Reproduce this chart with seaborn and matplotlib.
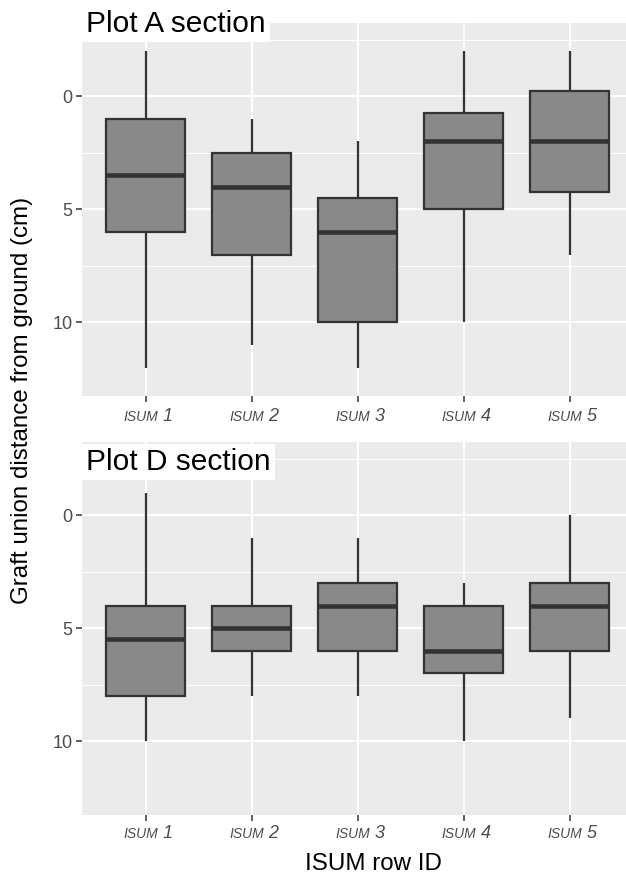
import numpy as np
import pandas as pd
import matplotlib
matplotlib.use('Agg')
import matplotlib.pyplot as plt
import seaborn as sns

# categories on the x axis
rows = ['ISUM 1', 'ISUM 2', 'ISUM 3', 'ISUM 4', 'ISUM 5']
row_nums = ['1', '2', '3', '4', '5']

# Plot A section: five-number summaries (cm)
a_low = [-2, 1, 2, -2, -2]
a_q1 = [1, 2.5, 4.5, 0.75, -0.25]
a_med = [3.5, 4, 6, 2, 2]
a_q3 = [6, 7, 10, 5, 4.25]
a_high = [12, 11, 12, 10, 7]

# Plot D section
d_low = [-1, 1, 1, 3, 0]
d_q1 = [4, 4, 3, 4, 3]
d_med = [5.5, 5, 4, 6, 4]
d_q3 = [8, 6, 6, 7, 6]
d_high = [10, 8, 8, 10, 9]

titles = ['Plot A section', 'Plot D section']
y_ticks = [0, 5, 10]
y_minor = [-2.5, 2.5, 7.5]


def make_frame(lo, q1, med, q3, hi):
    # five values per row -> quartiles land exactly on the summary
    recs = []
    for i, r in enumerate(rows):
        for v in (lo[i], q1[i], med[i], q3[i], hi[i]):
            recs.append({'row': r, 'dist': v})
    return pd.DataFrame(recs)


frames = [make_frame(a_low, a_q1, a_med, a_q3, a_high),
          make_frame(d_low, d_q1, d_med, d_q3, d_high)]

sns.set_theme(style='darkgrid', rc={'axes.facecolor': '#EBEBEB',
                                    'grid.color': 'white',
                                    'figure.facecolor': 'white'})
plt.rcParams['font.family'] = ['Liberation Sans', 'DejaVu Sans']

W, H = 626, 881
fig = plt.figure(figsize=(W / 100, H / 100), dpi=100)

# panel top / bottom in pixels, title baseline in pixels
panels = [(22.7, 396.0), (441.7, 814.5)]
title_base = [31.7, 470.0]
label_drop = [18.0, 17.0]
left = 82.0
step = 106.0

for k, df in enumerate(frames):
    top, bot = panels[k]
    ax = fig.add_axes([left / W, 1 - bot / H, (W - left) / W, (bot - top) / H])
    sns.boxplot(data=df, x='row', y='dist', order=rows, ax=ax,
                color='#898989', linecolor='#333333', linewidth=1.6,
                width=0.75, whis=np.inf, showcaps=False, saturation=1,
                medianprops={'linewidth': 3.3})
    ax.set_xlim(-0.6, (W - left) / step - 0.6)
    ax.set_ylim(13.25, -3.25)
    ax.set_yticks(y_ticks)
    ax.set_yticks(y_minor, minor=True)
    ax.grid(which='major', color='white', lw=1.4)
    ax.grid(which='minor', axis='y', color='white', lw=0.7)
    ax.tick_params(which='minor', length=0)
    ax.tick_params(which='major', length=4, width=1.1, color='#333333',
                   bottom=True, left=True, labelsize=13,
                   labelcolor='#4D4D4D', pad=3)
    ax.set_xticks(range(len(rows)))
    ax.set_xticklabels([])
    ax.set_xlabel('')
    ax.set_ylabel('')
    for s in ax.spines.values():
        s.set_visible(False)

    # "ISUM" in small italic caps followed by a larger digit
    for i, n in enumerate(row_nums):
        ax.annotate('ISUM', xy=(i, 0), xycoords=ax.get_xaxis_transform(),
                    xytext=(8.8, -label_drop[k]), textcoords='offset points',
                    ha='right', va='baseline', fontsize=10, style='italic',
                    color='#4D4D4D')
        ax.annotate(n, xy=(i, 0), xycoords=ax.get_xaxis_transform(),
                    xytext=(12.2, -label_drop[k]), textcoords='offset points',
                    ha='left', va='baseline', fontsize=13, style='italic',
                    color='#4D4D4D')

    fig.text(86 / W, 1 - title_base[k] / H, titles[k], fontsize=21.5,
             ha='left', va='baseline', color='black',
             bbox=dict(facecolor='white', edgecolor='none',
                       boxstyle='square,pad=0.14'))

fig.text(22 / W, 1 - 400.5 / H, 'Graft union distance from ground (cm)',
         rotation=90, ha='center', va='center', fontsize=17.4, color='black')
fig.text(373 / W, 1 - 864 / H, 'ISUM row ID', ha='center', va='center',
         fontsize=17.4, color='black')

fig.savefig('out.png', dpi=100)
